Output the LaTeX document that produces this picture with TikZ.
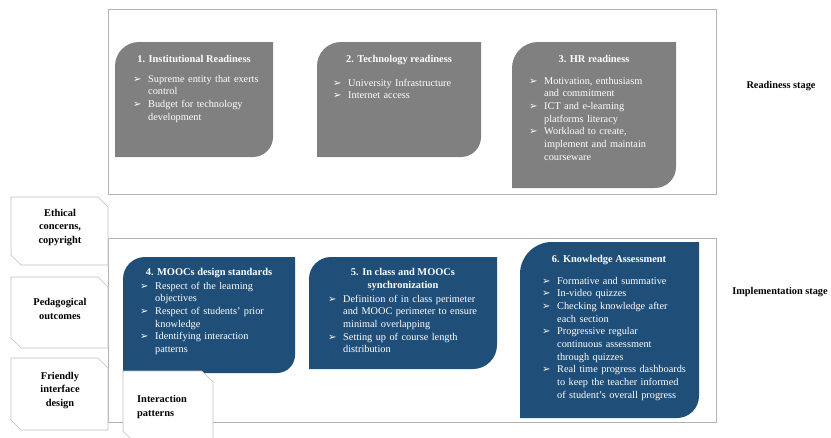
\documentclass[tikz,border=0pt]{standalone}
\usepackage{fontspec}
\setmainfont{Liberation Serif}
\newfontfamily\arrowfont{DejaVu Sans}
\usetikzlibrary{positioning}

\definecolor{readygrey}{RGB}{128,128,128}
\definecolor{implblue}{RGB}{31,78,121}
\definecolor{framegrey}{RGB}{178,178,178}
\definecolor{sidegrey}{RGB}{192,192,192}

% arrow bullet with hanging lines
\newcommand{\mitem}[1]{\hangindent=15pt\hangafter=1\noindent\makebox[15pt][l]{\arrowfont\fontsize{10}{10}\selectfont\char"27A2}#1\par}

\tikzset{
  boxtitle/.style={anchor=base, text=white, font=\fontsize{10.4}{12.8}\selectfont\bfseries, align=center, inner sep=0pt},
  boxlist/.style={anchor=base west, text=white, font=\fontsize{10.3}{12.7}\selectfont, text width=200pt, align=left, inner sep=0pt},
  sidelabel/.style={anchor=base, font=\fontsize{10.4}{13.3}\selectfont\bfseries, align=center, inner sep=0pt},
  stagelabel/.style={font=\fontsize{10.3}{12}\selectfont\bfseries, inner sep=0pt}
}

\begin{document}
\begin{tikzpicture}[x=1pt, y=-1pt]
    \useasboundingbox (0,0) rectangle (831,437);
    \fill[white] (0,0) rectangle (831,437);

    % Stage frames
    \draw[framegrey, line width=0.8pt] (108,9) rectangle (716,194);
    \draw[framegrey, line width=0.8pt] (108,238) rectangle (716,422);

    % Stage boxes (rounded top-left and bottom-right)
    \foreach \xa/\ya/\xb/\yb/\ra/\rb/\col in {115/42/273/157/24/20/readygrey,
            317/42/481/157/24/20/readygrey, 512/42/676/188/26/21/readygrey,
            123/257/295/373/22/18/implblue, 309/257/497/369/22/24/implblue,
            520/242/699/418/32/22/implblue} {
        \fill[\col] (\xa,\yb) -- (\xa,\ya+\ra)
            .. controls (\xa,\ya+0.448*\ra) and (\xa+0.448*\ra,\ya) .. (\xa+\ra,\ya)
            -- (\xb,\ya) -- (\xb,\yb-\rb)
            .. controls (\xb,\yb-0.448*\rb) and (\xb-0.448*\rb,\yb) .. (\xb-\rb,\yb) -- cycle;
    }

    % Side boxes (snipped corners)
    \foreach \ya/\yb in {197/265, 277/348, 358/430} {
        \draw[sidegrey, fill=white, line width=0.6pt] (11,\ya) -- (98,\ya) -- (108,\ya+10)
            -- (108,\yb) -- (21,\yb) -- (11,\yb-10) -- cycle;
    }
    \draw[sidegrey, fill=white, line width=0.6pt] (123,371) -- (202,371) -- (213,382)
        -- (213,441) -- (133,441) -- (123,431) -- cycle;

    % Readiness stage
    \node[boxtitle] (inst) at (194,62) {1. Institutional Readiness};
    \node[boxlist] (instlist) at (133,82) {\mitem{Supreme entity that exerts\newline control}
        \mitem{Budget for technology\newline development}};
    \node[boxtitle] (tech) at (399,62) {2. Technology  readiness};
    \node[boxlist] (techlist) at (333,86) {\mitem{University Infrastructure}
        \mitem{Internet access}};
    \node[boxtitle] (hr) at (594,62) {3. HR readiness};
    \node[boxlist] (hrlist) at (529,84) {\mitem{Motivation, enthusiasm\newline and commitment}
        \mitem{ICT and e-learning\newline platforms literacy}
        \mitem{Workload to create,\newline implement and maintain\newline courseware}};
    \node[stagelabel] (ready) at (781,86) {Readiness stage};

    % Implementation stage
    \node[boxtitle] (mooc) at (209,275) {4. MOOCs design standards};
    \node[boxlist] (mooclist) at (140,289) {\mitem{Respect of the learning\newline objectives}
        \mitem{Respect of students' prior\newline knowledge}
        \mitem{Identifying  interaction\newline patterns}};
    \node[boxtitle] (sync) at (403,288) {5. In class  and MOOCs\\synchronization};
    \node[boxlist] (synclist) at (328,302) {\mitem{Definition of in class perimeter\newline and MOOC perimeter  to ensure\newline minimal  overlapping}
        \mitem{Setting up of course length\newline distribution}};
    \node[boxtitle] (assess) at (609,262) {6. Knowledge Assessment};
    \node[boxlist] (assesslist) at (542,284) {\mitem{Formative and summative}
        \mitem{In-video quizzes}
        \mitem{Checking  knowledge after\newline each section}
        \mitem{Progressive regular\newline continuous assessment\newline through quizzes}
        \mitem{Real time progress dashboards\newline to keep the teacher  informed\newline of student's overall progress}};
    \node[stagelabel] (impl) at (780,292) {Implementation stage};

    % Side labels
    \node[sidelabel] (ethic) at (60,243) {Ethical\\concerns,\\copyright};
    \node[sidelabel] (peda) at (60,319) {Pedagogical\\outcomes};
    \node[sidelabel] (friend) at (60,406) {Friendly\\interface\\design};
    \node[sidelabel, anchor=base west, align=left] (inter) at (137,416) {Interaction\\patterns};
\end{tikzpicture}
\end{document}
